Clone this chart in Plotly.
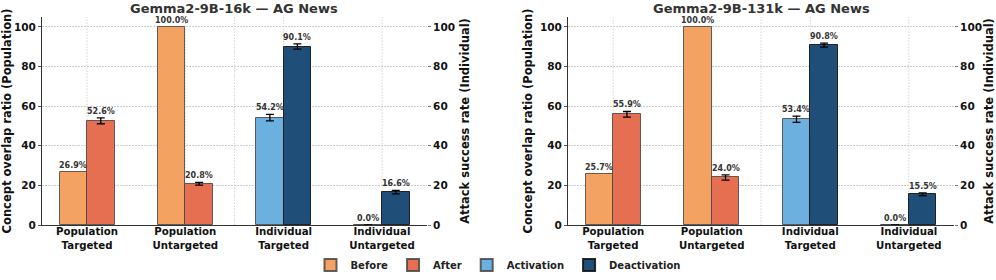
import plotly.graph_objects as go

# ---------------- data ----------------
CATEGORIES = ["Population<br>Targeted", "Population<br>Untargeted",
              "Individual<br>Targeted", "Individual<br>Untargeted"]
POP_IDX = [0, 1]
IND_IDX = [2, 3]

TITLES = ["Gemma2-9B-16k — AG News", "Gemma2-9B-131k — AG News"]

# panel 1 (16k)
BEFORE_16K = [26.9, 100.0]
AFTER_16K = [52.6, 20.8]
AFTER_ERR_16K = [1.5, 0.7]
ACT_16K = [54.2, 0.0]
ACT_ERR_16K = [1.6, 0.0]
DEACT_16K = [90.1, 16.6]
DEACT_ERR_16K = [1.3, 0.9]

# panel 2 (131k)
BEFORE_131K = [25.7, 100.0]
AFTER_131K = [55.9, 24.0]
AFTER_ERR_131K = [1.4, 1.3]
ACT_131K = [53.4, 0.0]
ACT_ERR_131K = [1.6, 0.0]
DEACT_131K = [90.8, 15.5]
DEACT_ERR_131K = [1.0, 0.7]

Y_TICKS = [0, 20, 40, 60, 80, 100]
GRID_X = [0, 1, 1.5, 2, 3]

# ---------------- style ----------------
COL_BEFORE = "#F4A261"
COL_AFTER = "#E76F51"
COL_ACT = "#6CB0E0"
COL_DEACT = "#1F4E79"
FONT = "DejaVu Sans"
TXT = "#333333"
BAR_W = 0.28
GRID_DASH = "1.5px,1.5px"

panels = [
    dict(before=BEFORE_16K, after=AFTER_16K, after_err=AFTER_ERR_16K,
         act=ACT_16K, act_err=ACT_ERR_16K, deact=DEACT_16K, deact_err=DEACT_ERR_16K),
    dict(before=BEFORE_131K, after=AFTER_131K, after_err=AFTER_ERR_131K,
         act=ACT_131K, act_err=ACT_ERR_131K, deact=DEACT_131K, deact_err=DEACT_ERR_131K),
]

x_domains = [[42 / 996, 427 / 996], [568 / 996, 954 / 996]]
y_domain = [(280 - 225) / 280, (280 - 17) / 280]

fig = go.Figure()
annotations = []
shapes = []


def err(vals):
    return dict(type="data", array=vals, visible=True, color="black",
                thickness=1.3, width=4)


for p, panel in enumerate(panels):
    xa = "x" if p == 0 else "x2"
    ya_left = "y" if p == 0 else "y3"
    ya_right = "y2" if p == 0 else "y4"
    show = p == 0
    series = [
        ("Before", POP_IDX, panel["before"], None, COL_BEFORE, -BAR_W, ya_left, "rgba(70,70,70,0.85)"),
        ("After", POP_IDX, panel["after"], panel["after_err"], COL_AFTER, 0, ya_left, "rgba(70,70,70,0.85)"),
        ("Activation", IND_IDX, panel["act"], panel["act_err"], COL_ACT, -BAR_W, ya_right, "rgba(70,70,70,0.85)"),
        ("Deactivation", IND_IDX, panel["deact"], panel["deact_err"], COL_DEACT, 0, ya_right, "rgba(20,20,20,0.9)"),
    ]
    for name, xs, vals, errs, col, off, ya, edge in series:
        fig.add_trace(go.Bar(
            x=xs, y=vals, name=f"<b>{name}</b>", legendgroup=name, showlegend=show,
            offset=off, width=BAR_W, xaxis=xa, yaxis=ya,
            marker=dict(color=col, line=dict(color=edge, width=1)),
            error_y=err(errs) if errs is not None else None,
        ))
        for i, (xx, v) in enumerate(zip(xs, vals)):
            e = errs[i] if errs is not None else 0
            annotations.append(dict(
                x=xx + off + BAR_W / 2, y=v + e, xref=xa, yref=ya,
                text=f"<b>{v:.1f}%</b>", showarrow=False,
                yanchor="bottom", xanchor="center", yshift=0,
                font=dict(family=FONT, size=8, color=TXT)))
    for gx in GRID_X:
        shapes.append(dict(type="line", xref=xa, yref=f"{ya_left} domain",
                           x0=gx, x1=gx, y0=0, y1=1, layer="below",
                           line=dict(color="#cccccc", width=0.8, dash=GRID_DASH)))
    annotations.append(dict(
        x=(x_domains[p][0] + x_domains[p][1]) / 2, y=1 - 8 / 280,
        xref="paper", yref="paper", text=f"<b>{TITLES[p]}</b>",
        showarrow=False, xanchor="center", yanchor="middle",
        font=dict(family=FONT, size=13, color=TXT)))

xaxis_common = dict(
    range=[-0.458, 3.458], tickmode="array", tickvals=[0, 1, 2, 3],
    ticktext=[f"<b>{c}</b>" for c in CATEGORIES], showgrid=False,
    zeroline=False, showline=True, linecolor="#333", linewidth=1.2,
    ticks="", tickfont=dict(family=FONT, size=10.2, color="#111"),
    ticklabelstandoff=-3, automargin=False,
)
yleft_common = dict(
    range=[0, 105], tickmode="array", tickvals=Y_TICKS,
    ticktext=[f"<b>{t}</b>" for t in Y_TICKS],
    showgrid=True, gridcolor="#cccccc", griddash=GRID_DASH, gridwidth=0.8,
    zeroline=False, showline=True, linecolor="#333", linewidth=1.2,
    ticks="outside", ticklen=3, tickcolor="#555",
    tickfont=dict(family=FONT, size=10.5, color="#111"),
    domain=y_domain, automargin=False,
)
yright_common = dict(
    range=[0, 105], tickmode="array", tickvals=Y_TICKS,
    ticktext=[f"<b>{t}</b>" for t in Y_TICKS],
    showgrid=False, zeroline=False, showline=False, side="right",
    ticks="outside", ticklen=3, tickcolor="#777",
    tickfont=dict(family=FONT, size=10.5, color="#111"),
    automargin=False,
)

left_title = dict(text="<b>Concept overlap ratio (Population)</b>",
                  font=dict(family=FONT, size=11.5, color="#111"), standoff=4)
right_title = dict(text="<b>Attack success rate (Individual)</b>",
                   font=dict(family=FONT, size=11.5, color="#111"), standoff=6)

fig.update_layout(
    width=996, height=280,
    margin=dict(l=0, r=0, t=0, b=0),
    paper_bgcolor="white", plot_bgcolor="white",
    barmode="overlay", bargap=0,
    font=dict(family=FONT, color=TXT),
    xaxis=dict(**xaxis_common, domain=x_domains[0], anchor="y"),
    xaxis2=dict(**xaxis_common, domain=x_domains[1], anchor="y3"),
    yaxis=dict(**yleft_common, anchor="x", title=left_title),
    yaxis2=dict(**yright_common, overlaying="y", anchor="x", title=right_title),
    yaxis3=dict(**yleft_common, anchor="x2", title=left_title),
    yaxis4=dict(**yright_common, overlaying="y3", anchor="x2", title=right_title),
    legend=dict(orientation="h", x=0.5, xanchor="center", y=15 / 280,
                yanchor="middle", font=dict(family=FONT, size=10, color="#222"),
                itemsizing="constant", traceorder="normal",
                bgcolor="rgba(0,0,0,0)"),
    annotations=annotations,
    shapes=shapes,
    showlegend=True,
)

fig.write_html("out.html", config={"displayModeBar": False},
               post_script="document.body.style.margin='0px';document.body.style.overflow='hidden';")
